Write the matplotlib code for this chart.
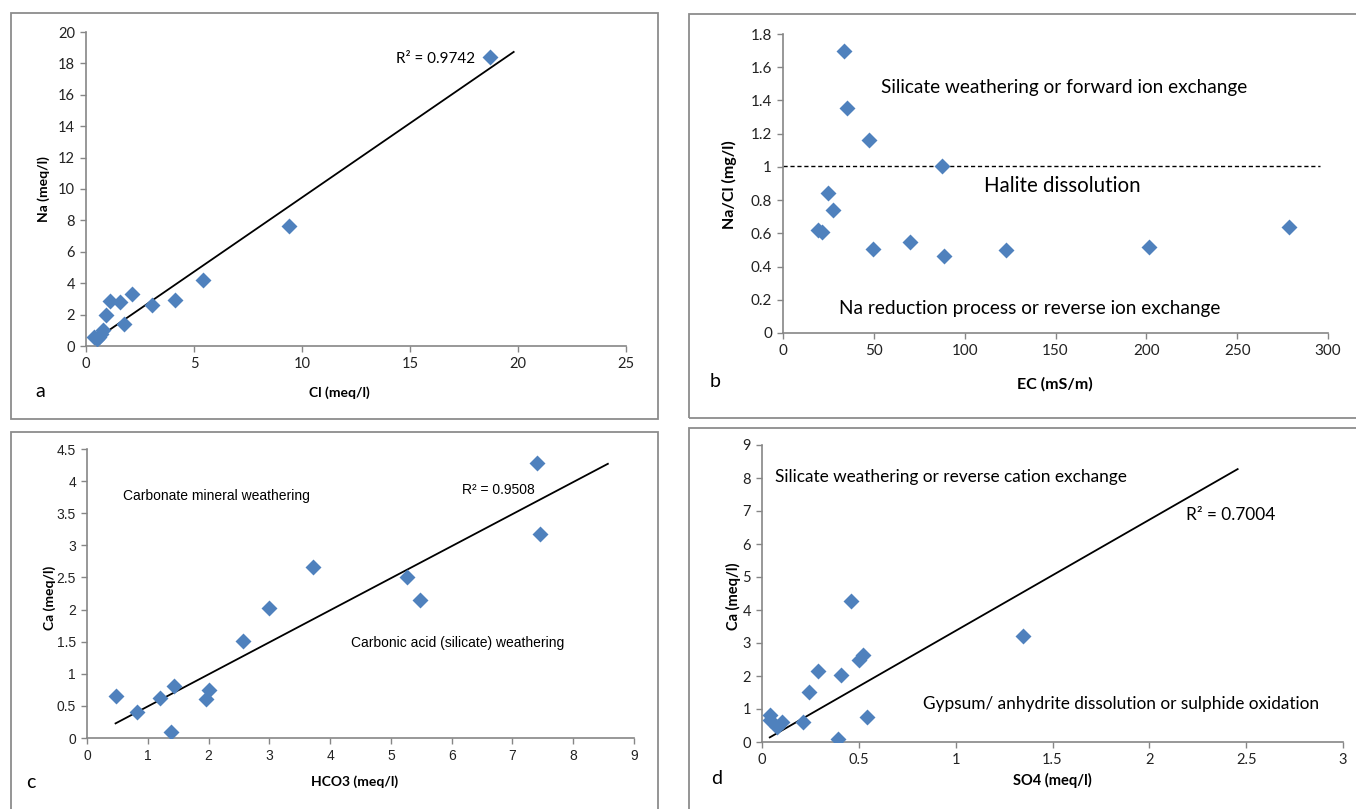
import matplotlib
matplotlib.use("Agg")
import matplotlib.pyplot as plt
import matplotlib.patches as mpatches
from matplotlib.ticker import FuncFormatter
import numpy as np

W, H = 1356, 809
DPI = 100

# ---------------- data ----------------
# panel a: Cl vs Na (meq/l)
cl_a = [18.7, 9.4, 5.42, 4.1, 3.06, 2.12, 1.57, 1.11, 0.93, 1.75, 0.79, 0.7, 0.52, 0.38, 0.6]
na_a = [18.4, 7.64, 4.23, 2.96, 2.58, 3.3, 2.79, 2.86, 1.97, 1.38, 1.0, 0.74, 0.47, 0.6, 0.55]
trend_a = (0.946, 0.0)
trend_a_x = (0.4, 19.8)
r2_a = "R² = 0.9742"

# panel b: EC vs Na/Cl
ec_b = [33.6, 35.4, 47.4, 87.5, 24.7, 27.7, 19.0, 21.5, 49.8, 69.7, 88.7, 122.7, 201.7, 278.7]
nacl_b = [1.696, 1.357, 1.162, 1.005, 0.84, 0.739, 0.62, 0.608, 0.506, 0.546, 0.465, 0.5, 0.52, 0.638]
halite_line = 1.007
halite_x = (0, 295.7)

# panel c: HCO3 vs Ca
hco3_c = [0.47, 0.82, 1.2, 1.43, 1.38, 1.95, 2.0, 2.56, 3.0, 3.72, 5.27, 5.48, 7.41, 7.46]
ca_c = [0.658, 0.404, 0.627, 0.814, 0.093, 0.607, 0.752, 1.51, 2.03, 2.665, 2.5, 2.146, 4.277, 3.178]
trend_c = (0.499, -0.007)
trend_c_x = (0.47, 8.57)
r2_c = "R² = 0.9508"

# panel d: SO4 vs Ca
so4_d = [0.04, 0.04, 0.08, 0.105, 0.21, 0.244, 0.29, 0.41, 0.39, 0.458, 0.5, 0.52, 0.544, 1.35]
ca_d = [0.81, 0.68, 0.445, 0.62, 0.62, 1.52, 2.14, 2.02, 0.09, 4.28, 2.5, 2.65, 0.75, 3.2]
trend_d = (3.365, 0.005)
trend_d_x = (0.04, 2.456)
r2_d = "R² = 0.7004"

# ---------------- style ----------------
BLUE = "#4F81BD"
GREY = "#868686"
FRAME = "#8c8c8c"
CAL = ["Lato", "DejaVu Sans"]
NARROW = ["Liberation Sans Narrow", "Liberation Sans", "DejaVu Sans"]

fig = plt.figure(figsize=(W / DPI, H / DPI), dpi=DPI)


def fx(px):
    return px / W


def fy(py):
    return 1 - py / H


def add_axes(left, right, top, bottom):
    return fig.add_axes([fx(left), fy(bottom), fx(right - left), (bottom - top) / H])


def style(ax, font, size):
    for s in ["top", "right"]:
        ax.spines[s].set_visible(False)
    for s in ["left", "bottom"]:
        ax.spines[s].set_color(GREY)
        ax.spines[s].set_linewidth(1.2)
    ax.tick_params(direction="out", length=4, width=1.0, color=GREY,
                   labelsize=size, labelcolor="#222222", pad=4)
    for lab in ax.get_xticklabels() + ax.get_yticklabels():
        lab.set_family(font)


def frame(x0, y0, x1, y1):
    r = mpatches.Rectangle((fx(x0), fy(y1)), fx(x1 - x0), (y1 - y0) / H,
                           transform=fig.transFigure, fill=False,
                           edgecolor=FRAME, linewidth=1.3)
    fig.patches.append(r)


def gfmt(v, pos):
    return "%g" % v


# frames
frame(11, 13, 658, 419)
frame(689, 14, 1360, 418)
frame(11, 432, 658, 815)
frame(689, 428, 1360, 815)

# ---------------- panel a ----------------
axa = add_axes(86, 626, 32, 346)
axa.scatter(cl_a, na_a, marker="D", s=66, color=BLUE, zorder=3, linewidths=0)
xs = np.array(trend_a_x)
axa.plot(xs, trend_a[0] * xs + trend_a[1], color="black", lw=1.3, zorder=2)
axa.set_xlim(0, 25)
axa.set_ylim(0, 20)
axa.set_xticks(range(0, 26, 5))
axa.set_yticks(range(0, 21, 2))
style(axa, CAL, 10.5)
axa.text(14.35, 18.3, r2_a, family=CAL, fontsize=11, va="center", ha="left")
fig.text(fx(339), fy(393), "Cl (meq/l)", family=CAL, fontsize=10, weight="bold",
         ha="center", va="center")
fig.text(fx(44), fy(189), "Na (meq/l)", family=CAL, fontsize=10, weight="bold",
         ha="center", va="center", rotation=90)
fig.text(fx(40), fy(392), "a", family=CAL, fontsize=14, ha="center", va="center")

# ---------------- panel b ----------------
axb = add_axes(783, 1328, 34, 333)
axb.scatter(ec_b, nacl_b, marker="D", s=66, color=BLUE, zorder=3, linewidths=0)
axb.plot(halite_x, [halite_line, halite_line], color="black", lw=1.0, ls=(0, (3, 2)), zorder=2)
axb.set_xlim(0, 300)
axb.set_ylim(0, 1.8)
axb.set_xticks(range(0, 301, 50))
axb.set_yticks(np.arange(0, 1.81, 0.2))
axb.yaxis.set_major_formatter(FuncFormatter(gfmt))
style(axb, CAL, 11)
axb.text(154.5, 1.48, "Silicate weathering or forward ion exchange", family=CAL,
         fontsize=13.7, ha="center", va="center")
axb.text(153.5, 0.886, "Halite dissolution", family=CAL, fontsize=14.8,
         ha="center", va="center")
axb.text(136, 0.145, "Na reduction process or reverse ion exchange", family=CAL,
         fontsize=13.7, ha="center", va="center")
fig.text(fx(1055), fy(384), "EC (mS/m)", family=CAL, fontsize=11.5, weight="bold",
         ha="center", va="center")
fig.text(fx(729), fy(185), "Na/Cl (mg/l)", family=CAL, fontsize=11.5, weight="bold",
         ha="center", va="center", rotation=90)
fig.text(fx(715), fy(382), "b", family=CAL, fontsize=14, ha="center", va="center")

# ---------------- panel c ----------------
axc = add_axes(87, 634, 449, 738)
axc.scatter(hco3_c, ca_c, marker="D", s=66, color=BLUE, zorder=3, linewidths=0)
xs = np.array(trend_c_x)
axc.plot(xs, trend_c[0] * xs + trend_c[1], color="black", lw=1.3, zorder=2)
axc.set_xlim(0, 9)
axc.set_ylim(0, 4.5)
axc.set_xticks(range(0, 10))
axc.set_yticks(np.arange(0, 4.51, 0.5))
axc.yaxis.set_major_formatter(FuncFormatter(gfmt))
style(axc, NARROW, 10)
axc.text(0.6, 3.77, "Carbonate mineral weathering", family=NARROW, fontsize=10,
         ha="left", va="center")
axc.text(4.35, 1.48, "Carbonic acid (silicate) weathering", family=NARROW, fontsize=10,
         ha="left", va="center")
axc.text(6.17, 3.86, r2_c, family=NARROW, fontsize=10, ha="left", va="center")
fig.text(fx(355), fy(782), "HCO3 (meq/l)", family=CAL, fontsize=10, weight="bold",
         ha="center", va="center")
fig.text(fx(50), fy(598), "Ca (meq/l)", family=CAL, fontsize=10, weight="bold",
         ha="center", va="center", rotation=90)
fig.text(fx(31), fy(782), "c", family=CAL, fontsize=14, ha="center", va="center")

# ---------------- panel d ----------------
axd = add_axes(762, 1343, 445, 742)
axd.scatter(so4_d, ca_d, marker="D", s=66, color=BLUE, zorder=3, linewidths=0)
xs = np.array(trend_d_x)
axd.plot(xs, trend_d[0] * xs + trend_d[1], color="black", lw=1.3, zorder=2)
axd.set_xlim(0, 3)
axd.set_ylim(0, 9)
axd.set_xticks(np.arange(0, 3.01, 0.5))
axd.set_yticks(range(0, 10))
axd.xaxis.set_major_formatter(FuncFormatter(gfmt))
style(axd, CAL, 10.5)
axd.text(0.065, 8.02, "Silicate weathering or reverse cation exchange", family=CAL,
         fontsize=12.4, ha="left", va="center")
axd.text(2.19, 6.87, r2_d, family=CAL, fontsize=12.4, ha="left", va="center")
axd.text(0.833, 1.15, "Gypsum/ anhydrite dissolution or sulphide oxidation", family=CAL,
         fontsize=12.4, ha="left", va="center")
fig.text(fx(1052), fy(780), "SO4 (meq/l)", family=CAL, fontsize=10.5, weight="bold",
         ha="center", va="center")
fig.text(fx(733), fy(596), "Ca (meq/l)", family=CAL, fontsize=10.5, weight="bold",
         ha="center", va="center", rotation=90)
fig.text(fx(717), fy(779), "d", family=CAL, fontsize=14, ha="center", va="center")

fig.savefig("out.png", dpi=DPI)
